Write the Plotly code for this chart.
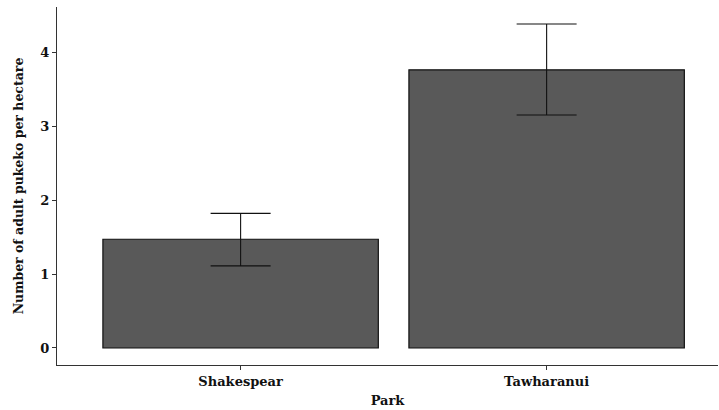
import plotly.graph_objects as go

# Mean adult pukeko density per park, with error bar limits
parks = ["Shakespear", "Tawharanui"]
density = [1.47, 3.76]
err_lower = [1.11, 3.15]
err_upper = [1.82, 4.38]

plus = [u - m for u, m in zip(err_upper, density)]
minus = [m - l for m, l in zip(density, err_lower)]

font_family = "DejaVu Serif"

fig = go.Figure(
    go.Bar(
        x=parks,
        y=density,
        width=0.9,
        marker=dict(color="#595959", line=dict(color="#111111", width=1.2)),
        error_y=dict(
            type="data",
            symmetric=False,
            array=plus,
            arrayminus=minus,
            color="#111111",
            thickness=1.1,
            width=30,
        ),
    )
)

axis_common = dict(
    showline=True,
    linecolor="#333333",
    linewidth=1,
    ticks="outside",
    ticklen=4,
    tickcolor="#333333",
    showgrid=False,
    zeroline=False,
    tickfont=dict(family=font_family, size=13, color="#111111", weight="bold"),
)

fig.update_layout(
    width=719,
    height=410,
    margin=dict(l=57, r=1, t=7, b=45),
    plot_bgcolor="white",
    paper_bgcolor="white",
    showlegend=False,
    font=dict(family=font_family, color="#111111"),
    xaxis=dict(
        **axis_common,
        range=[-0.6, 1.56],
        title=dict(text="Park", font=dict(family=font_family, size=13, weight="bold"), standoff=8),
    ),
    yaxis=dict(
        **axis_common,
        range=[-0.23, 4.61],
        tickvals=[0, 1, 2, 3, 4],
        title=dict(
            text="Number of adult pukeko per hectare",
            font=dict(family=font_family, size=12.5, weight="bold"),
            standoff=13,
        ),
    ),
)

fig.write_html("out.html")
